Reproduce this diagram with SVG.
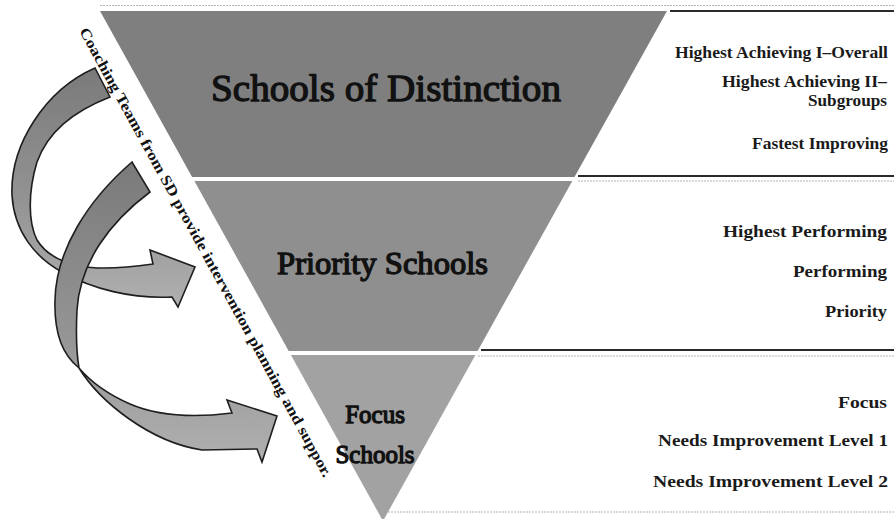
<svg xmlns="http://www.w3.org/2000/svg" width="894" height="519" viewBox="0 0 894 519">
<defs>
<linearGradient id="arrowGrad" x1="0" y1="0" x2="0" y2="1">
<stop offset="0" stop-color="#7a7a7a"/>
<stop offset="0.55" stop-color="#939393"/>
<stop offset="1" stop-color="#b0b0b0"/>
</linearGradient>
<style>
.tier-title{font-family:"Liberation Serif","Times New Roman",serif;font-weight:normal;fill:#111;stroke:#111;stroke-width:1.3;stroke-linejoin:round;text-anchor:middle}
.lbl{font-family:"Liberation Serif","Times New Roman",serif;font-weight:bold;font-size:16.5px;fill:#1a1a1a;text-anchor:end}
.rule{stroke:#2a2a2a;stroke-width:2}
.faint{stroke:#b5b5b5;stroke-width:1;stroke-dasharray:2 1}
.arrow{fill:url(#arrowGrad);stroke:#1e1e1e;stroke-width:1.6;stroke-linejoin:miter}
.side{font-family:"Liberation Serif","Times New Roman",serif;font-weight:bold;font-size:15px;fill:#111}
</style>
</defs>
<rect width="894" height="519" fill="#ffffff"/>

<g id="rules">
<line class="faint" x1="100" y1="5.5" x2="894" y2="5.5"/>
<line class="rule" x1="670" y1="11" x2="894" y2="11"/>
<line class="rule" x1="578" y1="176" x2="894" y2="176"/>
<line class="faint" x1="578" y1="181" x2="894" y2="181"/>
<line class="rule" x1="481" y1="350" x2="894" y2="350"/>
<line class="faint" x1="478" y1="356" x2="894" y2="356"/>
<line class="faint" x1="385" y1="512" x2="894" y2="512"/>
</g>

<g id="tier-distinction">
<polygon points="100,11 667,11 574.5,177 192.1,177" fill="#7f7f7f"/>
<text class="tier-title" x="386" y="101" font-size="38" textLength="350" lengthAdjust="spacingAndGlyphs">Schools of Distinction</text>
</g>
<g id="tier-priority">
<polygon points="194.4,181 572.3,181 477.6,351 288.7,351" fill="#8f8f8f"/>
<text class="tier-title" x="382.5" y="274" font-size="31" textLength="211" lengthAdjust="spacingAndGlyphs">Priority Schools</text>
</g>
<g id="tier-focus">
<polygon points="290.9,355 475.4,355 383,521" fill="#a2a2a2"/>
<text class="tier-title" x="375" y="423" font-size="25">Focus</text>
<text class="tier-title" x="375" y="463" font-size="25">Schools</text>
</g>

<g id="labels-distinction">
<text class="lbl" x="888" y="58" textLength="213" lengthAdjust="spacingAndGlyphs">Highest Achieving I–Overall</text>
<text class="lbl" x="887" y="87" textLength="165" lengthAdjust="spacingAndGlyphs">Highest Achieving II–</text>
<text class="lbl" x="887" y="106" textLength="79" lengthAdjust="spacingAndGlyphs">Subgroups</text>
<text class="lbl" x="888" y="149" textLength="136" lengthAdjust="spacingAndGlyphs">Fastest Improving</text>
</g>
<g id="labels-priority">
<text class="lbl" x="887" y="237" textLength="164" lengthAdjust="spacingAndGlyphs">Highest Performing</text>
<text class="lbl" x="887" y="277" textLength="94" lengthAdjust="spacingAndGlyphs">Performing</text>
<text class="lbl" x="887" y="317" textLength="62" lengthAdjust="spacingAndGlyphs">Priority</text>
</g>
<g id="labels-focus">
<text class="lbl" x="887" y="408" textLength="49" lengthAdjust="spacingAndGlyphs">Focus</text>
<text class="lbl" x="888" y="446" textLength="230" lengthAdjust="spacingAndGlyphs">Needs Improvement Level 1</text>
<text class="lbl" x="888" y="487" textLength="235" lengthAdjust="spacingAndGlyphs">Needs Improvement Level 2</text>
</g>

<g id="connectors">
<path id="arrow-to-priority" class="arrow" d="M95,68 C45,90 10,145 12,195 C14,232 36,258 62,272 C92,289 132,299 172,297 L178,307 L195,267 L150,250 L153,264 C125,268 100,270 80,266 C60,262 45,253 37,240 C28,222 28,192 37,162 C48,132 72,112 110,97 Z"/>
<path id="arrow-to-focus" class="arrow" d="M132,162 C88,200 56,250 55,300 C54,335 63,355 79,368 C100,402 150,442 202,450 L257,449 L262,462 L277,416 L227,400 L232,413 C200,417 160,417 130,404 C105,393 90,381 79,368 C76,350 76,330 77,310 C80,262 110,222 150,192 Z"/>
</g>

<g id="side-caption">
<text class="side" x="79" y="31" transform="rotate(61.3 79 31)" textLength="510" lengthAdjust="spacingAndGlyphs">Coaching Teams from SD provide intervention planning and suppor.</text>
</g>
</svg>
